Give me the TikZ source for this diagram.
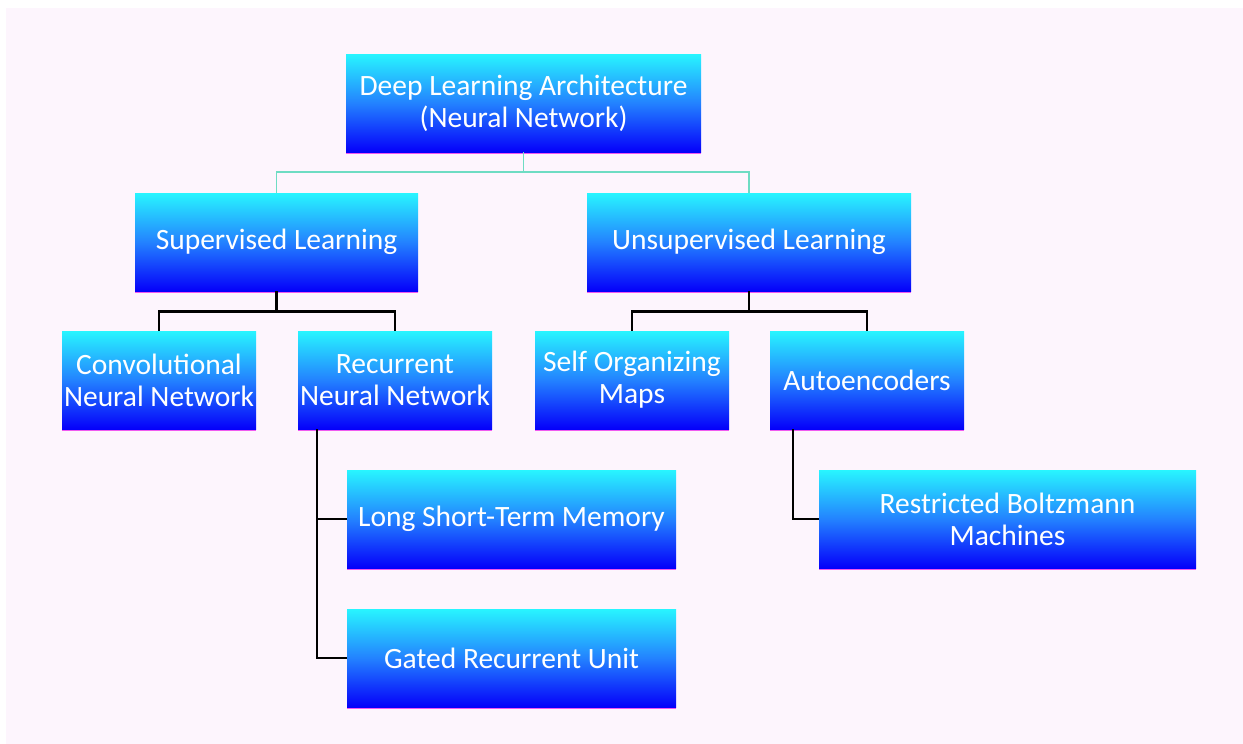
\documentclass[tikz,border=0pt]{standalone}
\usepackage{fontspec}
\setmainfont{Carlito}
\definecolor{bgpink}{RGB}{253,245,253}
\definecolor{boxtop}{RGB}{40,245,255}
\definecolor{boxmid}{RGB}{35,130,255}
\definecolor{boxbot}{RGB}{5,0,250}
\definecolor{shadowpink}{RGB}{240,90,240}
\definecolor{tealline}{RGB}{110,220,195}
\tikzset{
  box/.style={rectangle, minimum height=98pt, inner sep=0pt, align=center,
    text=white, font=\fontsize{29.5}{32}\selectfont,
    top color=boxtop, bottom color=boxbot, middle color=boxmid,
    draw=none,
    preaction={fill=shadowpink, transform canvas={yshift=-2pt}}},
  tealconn/.style={draw=tealline, line width=1.8pt},
  blackconn/.style={draw=black, line width=2.9pt}
}
\begin{document}
\begin{tikzpicture}[x=1pt,y=-1pt]
\useasboundingbox (0,0) rectangle (1243,744);
\fill[bgpink] (6,8) rectangle (1243,744);
% hierarchy boxes
\node[box, minimum width=355pt] (root) at (523.5,103) {Deep Learning Architecture\\(Neural Network)};
\node[box, minimum width=283pt] (sup) at (276.5,242) {Supervised Learning};
\node[box, minimum width=324pt] (unsup) at (749,242) {Unsupervised Learning};
\node[box, minimum width=194pt] (cnn) at (159,380) {Convolutional\\Neural Network};
\node[box, minimum width=194pt] (rnn) at (395,380) {Recurrent\\Neural Network};
\node[box, minimum width=194pt] (som) at (632,380) {Self Organizing\\Maps};
\node[box, minimum width=194pt] (ae) at (867,380) {Autoencoders};
\node[box, minimum width=329pt] (lstm) at (511.5,519) {Long Short-Term Memory};
\node[box, minimum width=329pt] (gru) at (511.5,658) {Gated Recurrent Unit};
\node[box, minimum width=377pt] (rbm) at (1007.5,519) {Restricted Boltzmann\\Machines};
% connectors
\draw[tealconn] (root.south) -- ++(0,20) -| (sup.north);
\draw[tealconn] (root.south) -- ++(0,20) -| (unsup.north);
\draw[blackconn] (sup.south) -- ++(0,20) -| (cnn.north);
\draw[blackconn] (sup.south) -- ++(0,20) -| (rnn.north);
\draw[blackconn] (unsup.south) -- ++(0,20) -| (som.north);
\draw[blackconn] (unsup.south) -- ++(0,20) -| (ae.north);
\coordinate (rnntrunk) at ([xshift=-78pt]rnn.south);
\draw[blackconn] (rnntrunk) |- (lstm.west);
\draw[blackconn] (rnntrunk) |- (gru.west);
\coordinate (aetrunk) at ([xshift=-74pt]ae.south);
\draw[blackconn] (aetrunk) |- (rbm.west);
\end{tikzpicture}
\end{document}
